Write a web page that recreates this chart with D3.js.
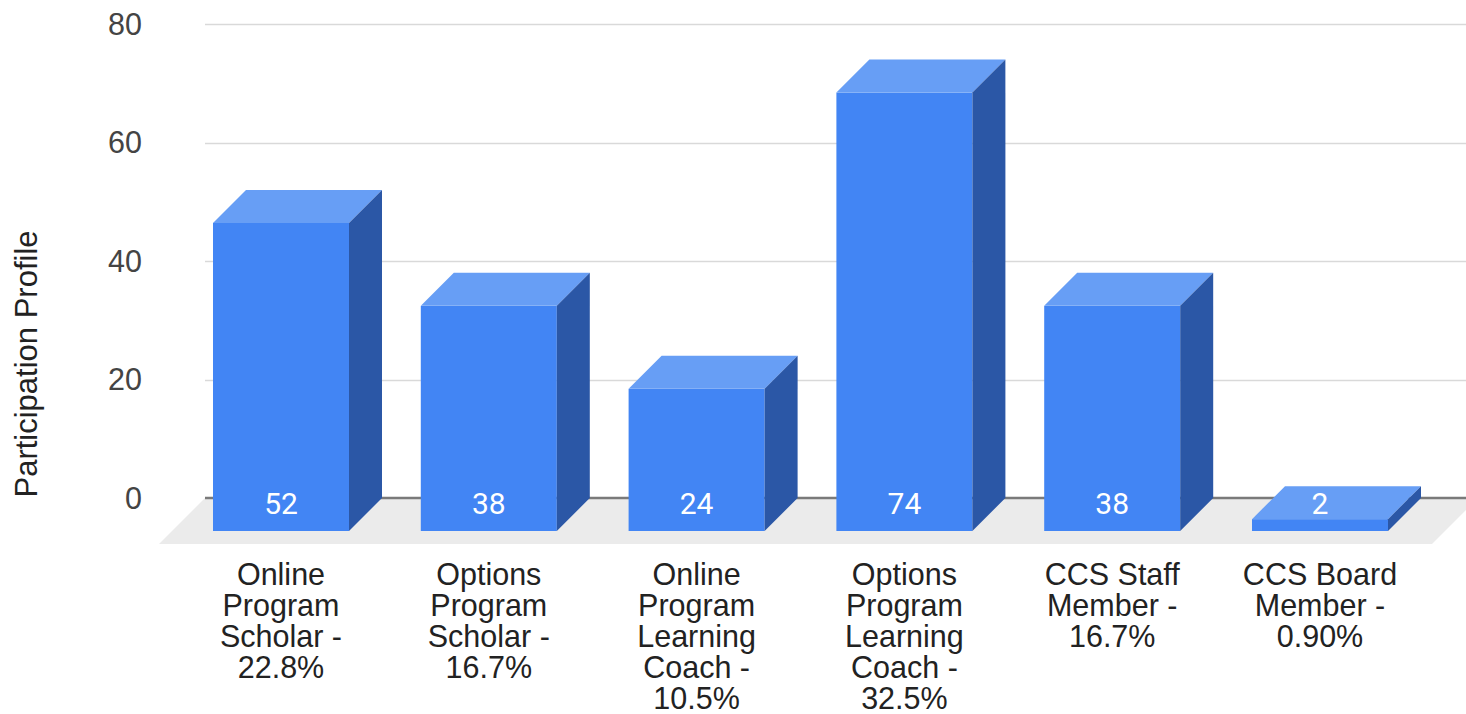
<!DOCTYPE html>
<html>
<head>
<meta charset="utf-8">
<script src="https://cdn.jsdelivr.net/npm/d3@7"></script>
<style>
  html, body { margin: 0; padding: 0; background: #fff; }
  svg { display: block; }
</style>
</head>
<body>
<svg id="chart" width="1466" height="714"></svg>
<script>
// ---- data ----
const categories = [
  "Online\nProgram\nScholar -\n22.8%",
  "Options\nProgram\nScholar -\n16.7%",
  "Online\nProgram\nLearning\nCoach -\n10.5%",
  "Options\nProgram\nLearning\nCoach -\n32.5%",
  "CCS Staff\nMember -\n16.7%",
  "CCS Board\nMember -\n0.90%"
];
const values = [52, 38, 24, 74, 38, 2];
const yTicks = [0, 20, 40, 60, 80];
const yTitle = "Participation Profile";

// ---- layout ----
const W = 1466, H = 714;
const depth = 33;        // 3D offset of bars
const floorDepth = 46;   // 3D offset of floor
const svg = d3.select("#chart");

const y = d3.scaleLinear().domain([0, 80]).range([498, 24]);
const x = d3.scaleBand().domain(categories)
  .range([177.1, 1423.9]).paddingInner(0.3455).paddingOuter(0.17275);

const wallLeft = 205, wallRight = 1478;
const fontAxis = "Arial, 'Liberation Sans', sans-serif";

// floor
const y0 = y(0);
svg.append("path")
  .attr("d", `M${wallLeft},${y0} L${wallRight},${y0} L${wallRight - floorDepth},${y0 + floorDepth} L${wallLeft - floorDepth},${y0 + floorDepth} Z`)
  .attr("fill", "#ebebeb");

// gridlines
svg.append("g").selectAll("line")
  .data(yTicks.filter(d => d !== 0))
  .join("line")
  .attr("x1", wallLeft).attr("x2", W)
  .attr("y1", d => Math.round(y(d)) + 0.5).attr("y2", d => Math.round(y(d)) + 0.5)
  .attr("stroke", "#d9d9d9").attr("stroke-width", 1.5);

// zero line
svg.append("line")
  .attr("x1", wallLeft).attr("x2", W)
  .attr("y1", y0).attr("y2", y0)
  .attr("stroke", "#7a7a7a").attr("stroke-width", 2.5);

// y tick labels
svg.append("g").selectAll("text")
  .data(yTicks)
  .join("text")
  .attr("x", 142)
  .attr("y", d => y(d))
  .attr("dy", "0.35em")
  .attr("text-anchor", "end")
  .attr("font-family", fontAxis)
  .attr("font-size", 30.5)
  .attr("fill", "#444")
  .text(d => d);

// y title
svg.append("text")
  .attr("transform", `translate(37,364) rotate(-90)`)
  .attr("text-anchor", "middle")
  .attr("font-family", fontAxis)
  .attr("font-size", 31)
  .attr("fill", "#222")
  .text(yTitle);

// bars
const bw = x.bandwidth();
const bars = svg.append("g").selectAll("g")
  .data(categories.map((c, i) => ({c, v: values[i]})))
  .join("g");

// front face
bars.append("rect")
  .attr("x", d => x(d.c))
  .attr("y", d => y(d.v) + depth)
  .attr("width", bw)
  .attr("height", d => y(0) - y(d.v))
  .attr("fill", "#4285f4");

// top face
bars.append("path")
  .attr("d", d => {
    const x0 = x(d.c), yt = y(d.v) + depth;
    return `M${x0},${yt} L${x0 + depth},${yt - depth} L${x0 + bw + depth},${yt - depth} L${x0 + bw},${yt} Z`;
  })
  .attr("fill", "#679ef5");

// side face
bars.append("path")
  .attr("d", d => {
    const x1 = x(d.c) + bw, yt = y(d.v) + depth, yb = y(0) + depth;
    return `M${x1},${yt} L${x1 + depth},${yt - depth} L${x1 + depth},${yb - depth} L${x1},${yb} Z`;
  })
  .attr("fill", "#2b57a6");

// value labels
bars.append("text")
  .attr("x", d => x(d.c) + bw / 2)
  .attr("y", 514)
  .attr("text-anchor", "middle")
  .attr("font-family", "Roboto, Arial, sans-serif")
  .attr("font-size", 30)
  .attr("font-weight", 400)
  .attr("fill", "#ffffff")
  .text(d => d.v);

// category labels
const lab = svg.append("g").selectAll("text")
  .data(categories)
  .join("text")
  .attr("x", d => x(d) + bw / 2)
  .attr("y", 585)
  .attr("text-anchor", "middle")
  .attr("font-family", fontAxis)
  .attr("font-size", 30.5)
  .attr("fill", "#222");
lab.each(function(d) {
  const t = d3.select(this);
  d.split("\n").forEach((line, i) => {
    t.append("tspan")
      .attr("x", x(d) + bw / 2)
      .attr("dy", i === 0 ? 0 : 31)
      .text(line);
  });
});
</script>
</body>
</html>
